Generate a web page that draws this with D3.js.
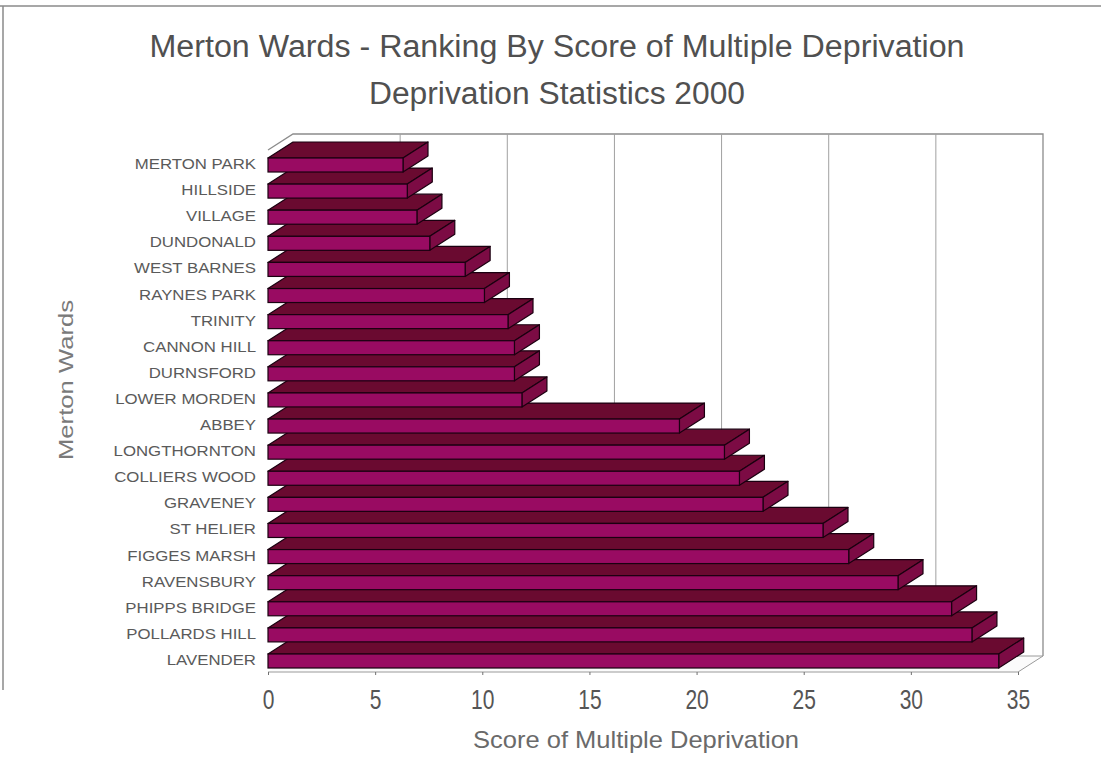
<!DOCTYPE html>
<html>
<head>
<meta charset="utf-8">
<script src="https://cdn.jsdelivr.net/npm/d3@7"></script>
<style>
  html, body { margin: 0; padding: 0; background: #fff; }
  svg { display: block; font-family: "Liberation Sans", Arial, sans-serif; }
</style>
</head>
<body>
<svg id="chart" width="1101" height="775"></svg>
<script>
// Wards, ranked from least to most deprived
const categories = [
  "MERTON PARK", "HILLSIDE", "VILLAGE", "DUNDONALD", "WEST BARNES",
  "RAYNES PARK", "TRINITY", "CANNON HILL", "DURNSFORD", "LOWER MORDEN",
  "ABBEY", "LONGTHORNTON", "COLLIERS WOOD", "GRAVENEY", "ST HELIER",
  "FIGGES MARSH", "RAVENSBURY", "PHIPPS BRIDGE", "POLLARDS HILL", "LAVENDER"
];
// Score of multiple deprivation for each ward
const scores = [
  6.3, 6.5, 6.95, 7.55, 9.2,
  10.1, 11.2, 11.5, 11.5, 11.85,
  19.2, 21.3, 22.0, 23.1, 25.9,
  27.1, 29.4, 31.9, 32.85, 34.1
];
const tickValues = [0, 5, 10, 15, 20, 25, 30, 35];
const titleLines = [
  "Merton Wards - Ranking By Score of Multiple Deprivation",
  "Deprivation Statistics 2000"
];
const xTitle = "Score of Multiple Deprivation";
const yTitle = "Merton Wards";

const narrow = "'Liberation Sans Narrow', 'Arial Narrow', 'Liberation Sans', Arial, sans-serif";
const svg = d3.select("#chart");

// Front plane of the 3D plot and the depth offset of its back plane
const plotTop = 150, plotBottom = 672;
const depthX = 25, depthY = -16;

const x = d3.scaleLinear().domain([0, 35]).range([268, 1018]);
const y = d3.scaleBand().domain(categories).range([158, 668])
  .paddingInner(0.4636).paddingOuter(0);

const colors = { front: "#990b62", top: "#6a0a30", side: "#7c0b44", edge: "#1a0010" };

// Outer frame
svg.append("line").attr("x1", 0).attr("x2", 1101).attr("y1", 6).attr("y2", 6)
  .attr("stroke", "#8a8a8a").attr("stroke-width", 1.5);
svg.append("line").attr("x1", 3).attr("x2", 3).attr("y1", 6).attr("y2", 690)
  .attr("stroke", "#8a8a8a").attr("stroke-width", 1.5);

// Titles
svg.selectAll("text.title").data(titleLines).join("text")
  .attr("class", "title")
  .attr("x", 557)
  .attr("y", (d, i) => 57 + i * 47)
  .attr("text-anchor", "middle")
  .attr("font-size", 31)
  .attr("font-family", narrow)
  .attr("fill", "#505050")
  .attr("textLength", (d, i) => i === 0 ? 815 : 376)
  .attr("lengthAdjust", "spacingAndGlyphs")
  .text(d => d);

// Back wall, right wall edge and floor
const x0 = x(0), x1 = x(35);
const g3d = svg.append("g");
g3d.append("path")
  .attr("d", `M${x0},${plotTop} L${x0 + depthX},${plotTop + depthY} L${x1 + depthX},${plotTop + depthY} L${x1 + depthX},${plotBottom + depthY}`)
  .attr("fill", "none").attr("stroke", "#8c8c8c").attr("stroke-width", 1.3);

// Back-wall gridlines
g3d.selectAll("line.grid").data(tickValues.slice(1, -1)).join("line")
  .attr("class", "grid")
  .attr("x1", d => x(d) + depthX).attr("x2", d => x(d) + depthX)
  .attr("y1", plotTop + depthY).attr("y2", plotBottom + depthY)
  .attr("stroke", "#a0a0a0").attr("stroke-width", 1);

// Floor
g3d.append("path")
  .attr("d", `M${x0},${plotBottom} L${x1},${plotBottom} L${x1 + depthX},${plotBottom + depthY} L${x0 + depthX},${plotBottom + depthY}`)
  .attr("fill", "#fbfbfb").attr("stroke", "#9a9a9a").attr("stroke-width", 1);

// Bars: drawn from the bottom up so each bar overlaps the top face of the one below
const rows = categories.map((c, i) => ({ c, v: scores[i] })).reverse();
const bars = svg.append("g").selectAll("g.bar").data(rows).join("g").attr("class", "bar");

bars.append("path")
  .attr("d", d => {
    const a = x(0), b = x(d.v), t = y(d.c);
    return `M${a},${t} L${b},${t} L${b + depthX},${t + depthY} L${a + depthX},${t + depthY} Z`;
  })
  .attr("fill", colors.top).attr("stroke", colors.edge).attr("stroke-width", 1.2)
  .attr("stroke-linejoin", "round");

bars.append("path")
  .attr("d", d => {
    const b = x(d.v), t = y(d.c), bt = t + y.bandwidth();
    return `M${b},${t} L${b + depthX},${t + depthY} L${b + depthX},${bt + depthY} L${b},${bt} Z`;
  })
  .attr("fill", colors.side).attr("stroke", colors.edge).attr("stroke-width", 1.2)
  .attr("stroke-linejoin", "round");

bars.append("rect")
  .attr("x", x(0))
  .attr("y", d => y(d.c))
  .attr("width", d => x(d.v) - x(0))
  .attr("height", y.bandwidth())
  .attr("fill", colors.front).attr("stroke", colors.edge).attr("stroke-width", 1.2);

// Category labels
svg.append("g").selectAll("text").data(categories).join("text")
  .attr("transform", d => `translate(256,${y(d) + y.bandwidth() / 2 - 1}) scale(1.2,1)`)
  .attr("text-anchor", "end")
  .attr("dominant-baseline", "central")
  .attr("font-size", 14)
  .attr("fill", "#5a5a5a")
  .text(d => d);

// Value axis along the front edge of the floor
const xAxis = d3.axisBottom(x).tickValues(tickValues).tickSize(3).tickFormat(d3.format("d"));
const axisG = svg.append("g").attr("transform", `translate(0,${plotBottom})`).call(xAxis);
axisG.select(".domain").remove();
axisG.selectAll(".tick line").attr("stroke", "#707070");
axisG.selectAll(".tick text")
  .attr("y", 0).attr("dy", 0)
  .attr("transform", "translate(0,37) scale(0.75,1)")
  .attr("font-size", 28)
  .attr("font-family", narrow)
  .attr("fill", "#555");

// Axis titles
svg.append("text")
  .attr("x", 636).attr("y", 748)
  .attr("text-anchor", "middle")
  .attr("font-size", 24)
  .attr("font-family", narrow)
  .attr("fill", "#6a6a6a")
  .attr("textLength", 326).attr("lengthAdjust", "spacingAndGlyphs")
  .text(xTitle);

svg.append("text")
  .attr("transform", "translate(73,380) rotate(-90)")
  .attr("text-anchor", "middle")
  .attr("font-size", 21)
  .attr("fill", "#7a7a7a")
  .attr("textLength", 160).attr("lengthAdjust", "spacingAndGlyphs")
  .text(yTitle);
</script>
</body>
</html>
